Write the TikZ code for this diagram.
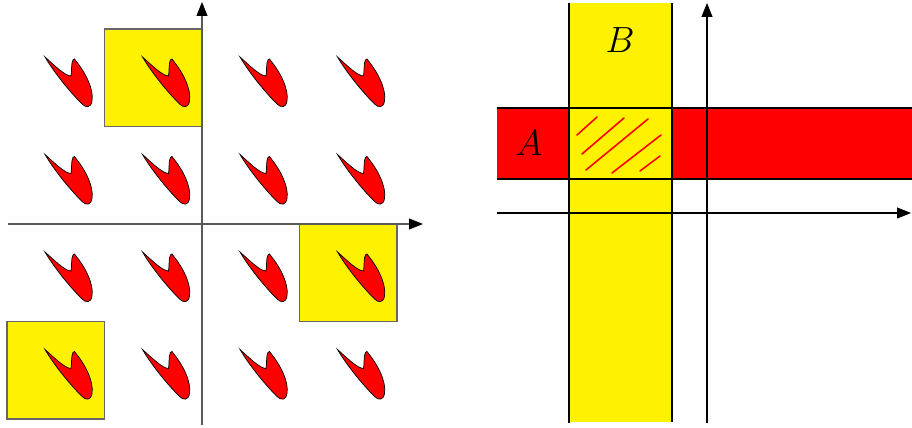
\documentclass[tikz,border=0pt]{standalone}
\usetikzlibrary{arrows.meta}

\tikzset{
  hoja/.style={fill=red, draw=black, line width=0.4pt},
  celda/.style={fill=yellow, draw=black!60, line width=0.6pt},
  borde/.style={line width=1.3pt},
  raya/.style={red, line width=0.9pt, line cap=round},
  pics/pala/.style={code={
    \draw[hoja] (0,0) .. controls (9,8) and (20,19) .. (26,19)
      .. controls (27,14) and (26,6) .. (28,3)
      .. controls (29,1) and (30,2) .. (31,4)
      .. controls (40,15) and (49,32) .. (47,44)
      .. controls (46,51) and (41,51) .. (37,47)
      .. controls (26,36) and (10,17) .. (0,0) -- cycle;
  }}
}

\begin{document}
\begin{tikzpicture}[x=0.02cm, y=-0.02cm, >={Triangle[length=0.28cm, width=0.22cm]}, line width=0.6pt]
  \useasboundingbox (0,0) rectangle (912,428);
  % celdas amarillas
  \foreach \i/\j in {1/0, 0/3, 3/2}
    \draw[celda] (7+97.5*\i, 29+97.5*\j) rectangle +(97.5,97.5);
  % red de palas
  \foreach \i in {0,...,3}
    \foreach \j in {0,...,3}
      \pic at (45+97.5*\i, 57+97.5*\j) {pala};
  % ejes (izquierda)
  \coordinate (o1) at (8,224);
  \coordinate (x1) at (423,224);
  \coordinate (s1) at (202,425);
  \coordinate (y1) at (202,2);
  \draw[black!65, -{Triangle[length=0.28cm, width=0.22cm, color=black]}] (o1) -- (x1);
  \draw[black!65, -{Triangle[length=0.28cm, width=0.22cm, color=black]}] (s1) -- (y1);

  % franja B (vertical)
  \fill[yellow] (569,3) rectangle (672,422);
  % franja A (horizontal)
  \fill[red] (497,108) rectangle (912,179);
  \fill[yellow] (569,108) rectangle (672,179);
  \draw[borde] (569,3) -- (569,423);
  \draw[borde] (672,3) -- (672,422);
  \draw[borde] (497,108) -- (912,108);
  \draw[borde] (497,179) -- (912,179);
  % interseccion rayada
  \draw[raya] (577,135) -- (597,117);
  \draw[raya] (582,154) -- (624,118);
  \draw[raya] (586,170) -- (648,119);
  \draw[raya] (612,173) -- (661,135);
  \draw[raya] (640,171) -- (660,156);
  \node (A) at (529,143) {\huge $A$};
  \node (B) at (620,40) {\huge $B$};
  % ejes (derecha)
  \coordinate (o2) at (497,213);
  \coordinate (x2) at (911,213);
  \coordinate (s2) at (707,423);
  \coordinate (y2) at (707,3);
  \draw[->] (o2) -- (x2);
  \draw[->] (s2) -- (y2);
\end{tikzpicture}
\end{document}
